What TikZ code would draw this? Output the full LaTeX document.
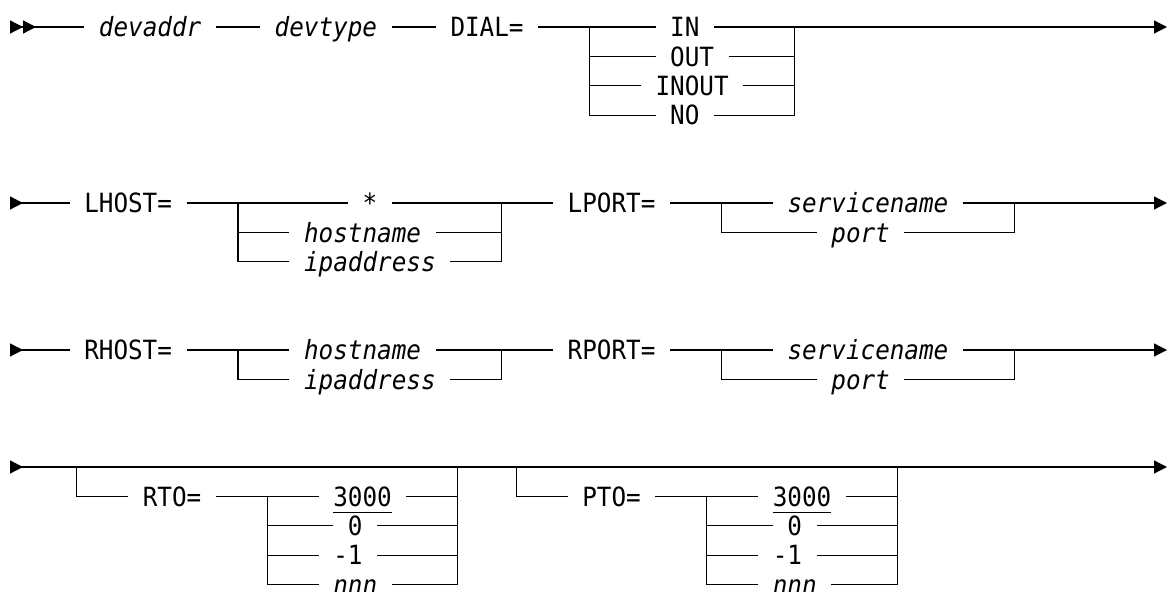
\documentclass[tikz,border=0pt]{standalone}
\usepackage{fontspec}
\setmainfont{DejaVu Sans Mono}[FakeStretch=0.917]
\usetikzlibrary{arrows.meta}
\newcommand{\dflt}[1]{\vtop{\hbox{#1}\kern4.5pt\hrule height 1.1pt}}
\tikzset{
  railtip/.tip={Triangle[length=0.39cm, width=0.39cm]},
  railin/.tip={Triangle[reversed, length=0.39cm, width=0.39cm]}
}

\begin{document}
\begin{tikzpicture}[x=0.03cm, y=-0.03cm,
  rail/.style={line width=1.1pt},
  word/.style={inner xsep=12.47pt, inner ysep=0pt, outer sep=0pt, text height=16.5pt, text depth=0pt, font=\fontsize{22.6pt}{26pt}\selectfont},
  var/.style={word, font=\fontsize{22.6pt}{26pt}\selectfont\itshape}]
  \useasboundingbox (0,0) rectangle (1168,592);

  % devaddr devtype DIAL=
  \coordinate (s1) at (10,27);
  \node[var] (addr) at (150.1,27) {devaddr};
  \node[var] (type) at (325.9,27) {devtype};
  \node[word] (dial) at (487.05,27) {DIAL=};
  \node[word] (dialin) at (684.8,27) {IN};
  \node[word] (dialout) at (692.15,56.4) {OUT};
  \node[word] (dialinout) at (692.15,85.8) {INOUT};
  \node[word] (dialno) at (684.8,115.2) {NO};
  \coordinate (diall) at (589.6,27);
  \coordinate (dialr) at (794.7,27);
  \coordinate (e1) at (1167,27);
  \draw[rail, {railin[]railin[]}-] (s1) -- (addr);
  \draw[rail] (addr) -- (type);
  \draw[rail] (type) -- (dial);
  \draw[rail] (dial) -- (dialin);
  \draw[rail, -{railtip}] (dialin) -- (e1);
  \draw[rail] (diall) |- (dialno);
  \draw[rail] (diall |- dialout) -- (dialout);
  \draw[rail] (diall |- dialinout) -- (dialinout);
  \draw[rail] (dialno) -| (dialr);
  \draw[rail] (dialout) -- (dialout -| dialr);
  \draw[rail] (dialinout) -- (dialinout -| dialr);

  % LHOST= LPORT=
  \coordinate (s2) at (10,203);
  \node[word] (lhost) at (128.125,203) {LHOST=};
  \node[word] (lhosta) at (369.85,203) {*};
  \node[var] (lhostb) at (362.525,232.4) {hostname};
  \node[var] (lhostc) at (369.85,261.8) {ipaddress};
  \coordinate (lhostl) at (238,203);
  \coordinate (lhostr) at (501.7,203);
  \node[word] (lport) at (611.575,203) {LPORT=};
  \node[var] (lporta) at (867.95,203) {servicename};
  \node[var] (lportb) at (860.625,232.4) {port};
  \coordinate (lportl) at (721.45,203);
  \coordinate (lportr) at (1014.45,203);
  \coordinate (e2) at (1167,203);
  \draw[rail, {railin}-] (s2) -- (lhost);
  \draw[rail] (lhost) -- (lhosta);
  \draw[rail] (lhosta) -- (lport);
  \draw[rail] (lhostl) |- (lhostc);
  \draw[rail] (lhostl |- lhostb) -- (lhostb);
  \draw[rail] (lhostb) -- (lhostb -| lhostr);
  \draw[rail] (lhostc) -| (lhostr);
  \draw[rail] (lport) -- (lporta);
  \draw[rail, -{railtip}] (lporta) -- (e2);
  \draw[rail] (lportl) |- (lportb);
  \draw[rail] (lportb) -| (lportr);

  % RHOST= RPORT=
  \coordinate (s3) at (10,350);
  \node[word] (rhost) at (128.125,350) {RHOST=};
  \node[var] (rhosta) at (362.525,350) {hostname};
  \node[var] (rhostb) at (369.85,379.4) {ipaddress};
  \coordinate (rhostl) at (238,350);
  \coordinate (rhostr) at (501.7,350);
  \node[word] (rport) at (611.575,350) {RPORT=};
  \node[var] (rporta) at (867.95,350) {servicename};
  \node[var] (rportb) at (860.625,379.4) {port};
  \coordinate (rportl) at (721.45,350);
  \coordinate (rportr) at (1014.45,350);
  \coordinate (e3) at (1167,350);
  \draw[rail, {railin}-] (s3) -- (rhost);
  \draw[rail] (rhost) -- (rhosta);
  \draw[rail] (rhosta) -- (rport);
  \draw[rail] (rhostl) |- (rhostb);
  \draw[rail] (rhostb) -| (rhostr);
  \draw[rail] (rport) -- (rporta);
  \draw[rail, -{railtip}] (rporta) -- (e3);
  \draw[rail] (rportl) |- (rportb);
  \draw[rail] (rportb) -| (rportr);

  % RTO= PTO=
  \coordinate (s4) at (10,467);
  \coordinate (e4) at (1167,467);
  \draw[rail, {railin}-{railtip}] (s4) -- (e4);
  \coordinate (rtoon) at (76.85,467);
  \node[word] (rto) at (172.075,496.4) {RTO=};
  \node[word] (rtoa) at (362.525,496.4) {\dflt{3000}};
  \node[word] (rtob) at (355.2,525.8) {0};
  \node[word] (rtoc) at (347.875,555.2) {-1};
  \node[var] (rtod) at (355.2,584.6) {nnn};
  \coordinate (rtol) at (267.3,496.4);
  \coordinate (rtor) at (457.75,467);
  \draw[rail] (rtoon) |- (rto);
  \draw[rail] (rto) -- (rtoa);
  \draw[rail] (rtoa) -| (rtor);
  \draw[rail] (rtol) |- (rtod);
  \draw[rail] (rtol |- rtob) -- (rtob);
  \draw[rail] (rtol |- rtoc) -- (rtoc);
  \draw[rail] (rtob) -- (rtob -| rtor);
  \draw[rail] (rtoc) -- (rtoc -| rtor);
  \draw[rail] (rtod) -| (rtor);
  \coordinate (ptoon) at (516.35,467);
  \node[word] (pto) at (611.575,496.4) {PTO=};
  \node[word] (ptoa) at (802.025,496.4) {\dflt{3000}};
  \node[word] (ptob) at (794.7,525.8) {0};
  \node[word] (ptoc) at (787.375,555.2) {-1};
  \node[var] (ptod) at (794.7,584.6) {nnn};
  \coordinate (ptol) at (706.8,496.4);
  \coordinate (ptor) at (897.25,467);
  \draw[rail] (ptoon) |- (pto);
  \draw[rail] (pto) -- (ptoa);
  \draw[rail] (ptoa) -| (ptor);
  \draw[rail] (ptol) |- (ptod);
  \draw[rail] (ptol |- ptob) -- (ptob);
  \draw[rail] (ptol |- ptoc) -- (ptoc);
  \draw[rail] (ptob) -- (ptob -| ptor);
  \draw[rail] (ptoc) -- (ptoc -| ptor);
  \draw[rail] (ptod) -| (ptor);
\end{tikzpicture}
\end{document}
